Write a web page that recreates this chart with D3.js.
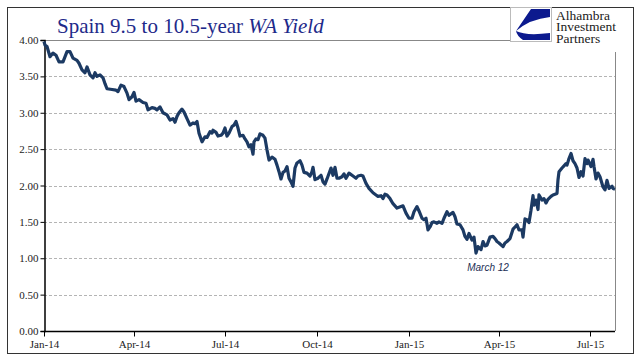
<!DOCTYPE html>
<html>
<head>
<meta charset="utf-8">
<script src="https://cdn.jsdelivr.net/npm/d3@7"></script>
<style>
  body { margin: 0; background: #fff; }
  svg { display: block; }
</style>
</head>
<body>
<svg id="chart" width="641" height="361"></svg>
<script>
// days since 2014-01-01
var days = [
  0, 1, 3, 6, 9, 12, 15, 19, 23, 26, 29, 33, 35, 38, 41, 43, 46, 49, 51, 53,
  56, 59, 61, 63, 68, 72, 74, 77, 80, 83, 85, 88, 90, 92, 95, 99, 102, 104, 108, 111,
  113, 116, 119, 123, 126, 129, 131, 133, 135, 138, 140, 143, 146, 149, 151, 153, 155, 158, 161, 163,
  166, 168, 169, 172, 174, 177, 179, 181, 183, 185, 188, 190, 192, 194, 196, 199, 201, 203, 205, 207,
  209, 210, 212, 214, 216, 219, 221, 223, 225, 228, 231, 233, 235, 237, 239, 241, 243, 245, 247, 249,
  251, 253, 256, 258, 260, 263, 266, 268, 269, 271, 274, 277, 279, 281, 283, 287, 289, 291, 293, 295,
  298, 300, 302, 305, 309, 312, 314, 317, 319, 322, 325, 329, 332, 334, 337, 339, 341, 343, 346, 349,
  353, 357, 359, 362, 365, 368, 370, 373, 375, 378, 380, 382, 384, 386, 388, 390, 393, 395, 398, 400,
  403, 405, 409, 411, 413, 416, 419, 421, 423, 425, 428, 430, 432, 434, 437, 439, 441, 443, 446, 449,
  451, 453, 455, 459, 461, 463, 466, 469, 471, 473, 475, 478, 479, 481, 483, 485, 487, 489, 490, 492,
  494, 495, 498, 500, 502, 504, 507, 509, 513, 514, 515, 518, 520, 522, 523, 525, 527, 529, 531, 533,
  535, 537, 539, 541, 543, 544, 547, 549, 550, 552, 554, 556, 559, 561, 563, 565, 568, 569, 571
];

var yields = [
  3.98, 3.93, 3.91, 3.77, 3.82, 3.79, 3.70, 3.70, 3.84, 3.84, 3.75, 3.72, 3.68, 3.59, 3.55, 3.63, 3.52, 3.48, 3.55, 3.50,
  3.52, 3.48, 3.40, 3.33, 3.32, 3.31, 3.29, 3.38, 3.36, 3.27, 3.18, 3.22, 3.28, 3.16, 3.18, 3.14, 3.13, 3.04, 3.07, 3.06,
  3.04, 3.08, 3.00, 2.97, 2.90, 2.92, 2.87, 2.95, 3.00, 3.05, 3.01, 2.92, 2.83, 2.86, 2.85, 2.88, 2.72, 2.60, 2.67, 2.66,
  2.74, 2.72, 2.76, 2.73, 2.68, 2.69, 2.72, 2.79, 2.68, 2.72, 2.81, 2.83, 2.88, 2.79, 2.68, 2.69, 2.64, 2.60, 2.53, 2.56,
  2.43, 2.60, 2.64, 2.63, 2.71, 2.69, 2.65, 2.49, 2.35, 2.39, 2.36, 2.28, 2.19, 2.09, 2.18, 2.20, 2.26, 2.10, 2.05, 1.99,
  2.24, 2.31, 2.34, 2.28, 2.18, 2.17, 2.13, 2.19, 2.25, 2.08, 2.10, 2.14, 2.05, 2.02, 2.09, 2.24, 2.14, 2.25, 2.10, 2.10,
  2.12, 2.16, 2.10, 2.17, 2.13, 2.10, 2.13, 2.14, 2.13, 2.03, 1.96, 1.90, 1.87, 1.85, 1.86, 1.82, 1.88, 1.87, 1.82, 1.75,
  1.69, 1.71, 1.72, 1.62, 1.55, 1.55, 1.64, 1.71, 1.65, 1.55, 1.53, 1.55, 1.39, 1.43, 1.49, 1.50, 1.48, 1.50, 1.48, 1.55,
  1.64, 1.59, 1.63, 1.57, 1.47, 1.46, 1.39, 1.30, 1.26, 1.34, 1.25, 1.29, 1.07, 1.16, 1.12, 1.23, 1.17, 1.18, 1.29, 1.30,
  1.27, 1.23, 1.21, 1.16, 1.21, 1.23, 1.27, 1.40, 1.43, 1.46, 1.39, 1.39, 1.29, 1.54, 1.53, 1.49, 1.66, 1.86, 1.73, 1.80,
  1.67, 1.87, 1.80, 1.82, 1.76, 1.81, 1.85, 1.87, 1.89, 2.08, 2.19, 2.24, 2.27, 2.30, 2.28, 2.37, 2.44, 2.34, 2.30, 2.24,
  2.11, 2.19, 2.13, 2.37, 2.30, 2.35, 2.26, 2.36, 2.26, 2.09, 2.17, 2.12, 1.98, 1.94, 2.07, 1.96, 1.99, 1.96, 1.95
];

var yTicks = [0, 0.5, 1, 1.5, 2, 2.5, 3, 3.5, 4];
var xTickLabels = ['Jan-14', 'Apr-14', 'Jul-14', 'Oct-14', 'Jan-15', 'Apr-15', 'Jul-15'];
var titleMain = 'Spain 9.5 to 10.5-year ';
var titleItalic = 'WA Yield';
var logoLines = ['Alhambra', 'Investment', 'Partners'];
var noteText = 'March 12';
var noteDay = 435;

var start = new Date(2014, 0, 1);
var data = days.map(function(d, i) {
  return { date: d3.timeDay.offset(start, d), value: yields[i] };
});

var svg = d3.select('#chart');
var plot = { left: 44, right: 615, top: 40, bottom: 331 };

var x = d3.scaleTime()
  .domain([start, d3.timeDay.offset(start, 571)])
  .range([plot.left, plot.right]);
var y = d3.scaleLinear().domain([0, 4]).range([plot.bottom, plot.top]);

// outer frame
svg.append('rect')
  .attr('x', 7.5).attr('y', 7.5)
  .attr('width', 626).attr('height', 346)
  .attr('fill', 'none').attr('stroke', '#333').attr('stroke-width', 1);

// grid
svg.append('g').selectAll('line')
  .data(yTicks.filter(function(t) { return t > 0 && t < 4; }))
  .enter().append('line')
  .attr('x1', plot.left).attr('x2', plot.right)
  .attr('y1', function(d) { return Math.round(y(d)) + 0.5; })
  .attr('y2', function(d) { return Math.round(y(d)) + 0.5; })
  .attr('stroke', '#b4b4b4').attr('stroke-dasharray', '3,2');

// top line (stops at logo)
svg.append('line')
  .attr('x1', plot.left).attr('x2', 510)
  .attr('y1', Math.round(y(4)) + 0.5).attr('y2', Math.round(y(4)) + 0.5)
  .attr('stroke', '#888');

// right border of plot
svg.append('line')
  .attr('x1', plot.right + 0.5).attr('x2', plot.right + 0.5)
  .attr('y1', 52).attr('y2', plot.bottom)
  .attr('stroke', '#888');

// y axis
var yAxis = d3.axisLeft(y).tickValues(yTicks).tickSize(4).tickFormat(d3.format('.2f'));
var gy = svg.append('g').attr('transform', 'translate(' + (plot.left + 0.5) + ',0)').call(yAxis);
gy.select('.domain').attr('stroke', '#000').attr('stroke-width', 1.5);
gy.selectAll('.tick line').attr('stroke', '#000');
gy.selectAll('text')
  .attr('font-family', 'Liberation Serif').attr('font-size', 11).attr('fill', '#222')
  .attr('x', -6);

// x axis
var xTicks = d3.timeMonth.every(3).range(start, d3.timeDay.offset(start, 572));
var xAxis = d3.axisBottom(x).tickValues(xTicks).tickSize(5)
  .tickFormat(function(d, i) { return xTickLabels[i]; });
var gx = svg.append('g').attr('transform', 'translate(0,' + (plot.bottom + 0.5) + ')').call(xAxis);
gx.select('.domain').attr('stroke', '#000').attr('stroke-width', 1.5)
  .attr('d', 'M' + plot.left + ',0H' + plot.right);
gx.selectAll('.tick line').attr('stroke', '#000');
gx.selectAll('text')
  .attr('font-family', 'Liberation Serif').attr('font-size', 11).attr('fill', '#222')
  .attr('y', 9);

// series line
var line = d3.line()
  .x(function(d) { return x(d.date); })
  .y(function(d) { return y(d.value); });

svg.append('path')
  .datum(data)
  .attr('d', line)
  .attr('fill', 'none')
  .attr('stroke', '#1c3a63')
  .attr('stroke-width', 3.2)
  .attr('stroke-linejoin', 'round');

// annotation
svg.append('text')
  .attr('x', x(d3.timeDay.offset(start, noteDay)) + 9)
  .attr('y', 271)
  .attr('text-anchor', 'middle')
  .attr('font-family', 'Liberation Sans').attr('font-style', 'italic')
  .attr('font-size', 10).attr('fill', '#1c2f55')
  .text(noteText);

// title
var title = svg.append('text')
  .attr('x', 57).attr('y', 33)
  .attr('font-family', 'Liberation Serif').attr('font-size', 21).attr('fill', '#1e2a8a');
title.append('tspan').text(titleMain);
title.append('tspan').attr('font-style', 'italic').text(titleItalic);

// logo
var logo = svg.append('g').attr('transform', 'translate(510,7)');
logo.append('rect')
  .attr('x', 0.5).attr('y', 0.5).attr('width', 41).attr('height', 34)
  .attr('fill', '#fff').attr('stroke', '#bbb');
logo.append('path')
  .attr('d', 'M21,2 L40,2 L40,10 Q20,12 6,24 Z')
  .attr('fill', '#0c1a8e');
logo.append('path')
  .attr('d', 'M6,24 Q16,29 40,26 L40,33 L13,33 Q7,29 6,24 Z')
  .attr('fill', '#0c1a8e');

logo.selectAll('text.logo')
  .data(logoLines)
  .enter().append('text')
  .attr('class', 'logo')
  .attr('x', 46)
  .attr('y', function(d, i) { return 12.5 + i * 11.5; })
  .attr('font-family', 'Liberation Serif').attr('font-size', 13.5).attr('fill', '#1a1a1a')
  .text(function(d) { return d; });
</script>
</body>
</html>
